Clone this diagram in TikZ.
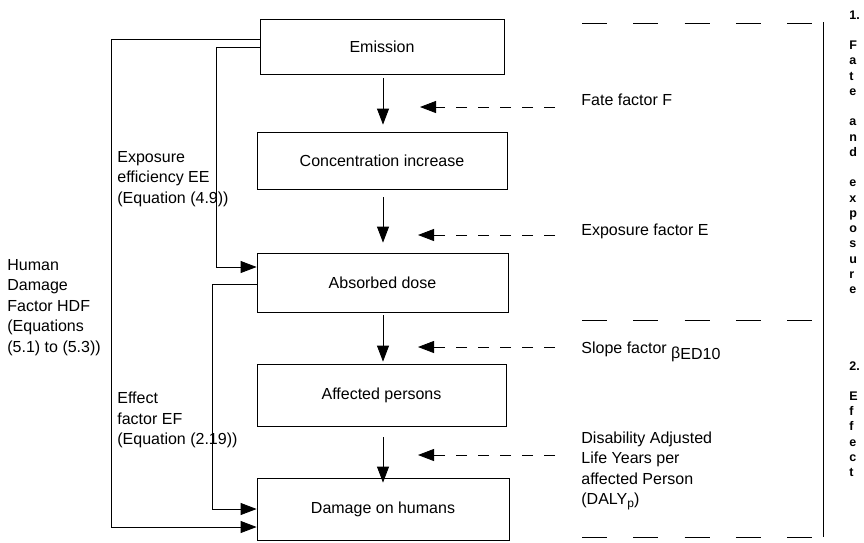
\documentclass[tikz,border=0pt]{standalone}
\usepackage{fontspec}
\setmainfont{Liberation Sans}
\usetikzlibrary{arrows.meta}
\begin{document}
\begin{tikzpicture}[x=1pt,y=-1pt, line width=0.8pt,
  box/.style={draw, inner sep=0pt, font=\fontsize{16}{20.5}\selectfont},
  lbl/.style={align=left, inner sep=0pt, font=\fontsize{16}{20.5}\selectfont},
  arr/.style={-{Triangle[length=16pt,width=12pt]}},
  darr/.style={arr, dash pattern=on 11pt off 11pt},
  sepline/.style={dash pattern=on 25pt off 26.25pt},
  vert/.style={font=\bfseries\fontsize{12.5}{14}\selectfont, inner sep=0pt, anchor=base west}]
\useasboundingbox (0,0) rectangle (864,542);

% main boxes
\node[box, minimum width=244pt, minimum height=55pt] (em)   at (382,46.5)  {Emission};
\node[box, minimum width=250pt, minimum height=57pt] (conc) at (382,160.5) {Concentration increase};
\node[box, minimum width=251pt, minimum height=59pt] (abs)  at (382.5,282.5) {Absorbed dose};
\node[box, minimum width=249pt, minimum height=62pt] (aff)  at (381.5,395) {Affected persons};
\node[box, minimum width=252pt, minimum height=62pt] (dam)  at (383,509)   {Damage on humans};

% vertical arrows
\draw[arr, shorten <=4pt, shorten >=7pt] ([xshift=1pt]em.south) -- ([xshift=1pt]em.south |- conc.north);
\draw[arr, shorten <=8pt, shorten >=10pt] ([xshift=1pt]conc.south) -- ([xshift=1pt]conc.south |- abs.north);
\draw[arr, shorten <=3pt, shorten >=2pt] ([xshift=0.5pt]abs.south) -- ([xshift=0.5pt]abs.south |- aff.north);
\draw[arr, shorten <=11pt, shorten >=-5pt] ([xshift=1.5pt]aff.south) -- ([xshift=1.5pt]aff.south |- dam.north);

% dashed arrows
\coordinate (d1s) at (555,107); \coordinate (d1e) at (420,107);
\coordinate (d2s) at (555,235); \coordinate (d2e) at (418,235);
\coordinate (d3s) at (555,347); \coordinate (d3e) at (418,347);
\coordinate (d4s) at (555,455); \coordinate (d4e) at (418,455);
\draw[darr] (d1s) -- (d1e);
\draw[darr] (d2s) -- (d2e);
\draw[darr] (d3s) -- (d3e);
\draw[darr] (d4s) -- (d4e);

% left feedback connectors
\draw[arr] ([yshift=7.5pt]em.west) -- ++(-148,0) |- ([yshift=-18pt]dam.west);
\draw[arr] ([yshift=-0.5pt]em.west) -- ++(-43,0) |- ([yshift=15.5pt]abs.west);
\draw[arr] ([yshift=-1.5pt]abs.west) -- ++(-44,0) |- (dam.west);

% left labels
\node[lbl, anchor=north west] (ee)  at (117,151) {Exposure\\efficiency EE\\(Equation (4.9))};
\node[lbl, anchor=north west] (efl) at (117,392) {Effect\\factor EF\\(Equation (2.19))};
\node[lbl, anchor=north west] (hdf) at (7,259) {Human\\Damage\\Factor HDF\\(Equations\\(5.1) to (5.3))};

% right labels
\node[lbl, anchor=base west] (ff) at (581,105.7) {Fate factor F};
\node[lbl, anchor=base west] (xf) at (581,235.7) {Exposure factor E};
\node[lbl, anchor=base west] (sf) at (581,353.7) {Slope factor \raisebox{-5pt}{β}\raisebox{-6pt}{ED10}};
\node[lbl, anchor=north west] (daly) at (581,431) {Disability Adjusted\\Life Years per\\affected Person\\(DALY\raisebox{-3pt}{\fontsize{12}{12}\selectfont p})};

% right column separators
\coordinate (r1) at (823,22); \coordinate (r2) at (823,537);
\draw[line width=1pt] (r1) -- (r2);
\coordinate (s1a) at (582,23);  \coordinate (s1b) at (812,23);
\coordinate (s2a) at (582,320); \coordinate (s2b) at (812,320);
\coordinate (s3a) at (582,537); \coordinate (s3b) at (812,537);
\draw[sepline] (s1a) -- (s1b);
\draw[sepline] (s2a) -- (s2b);
\draw[sepline] (s3a) -- (s3b);

% vertical phase labels
\foreach \i/\t in {0/1.,2/F,3/a,4/t,5/e,7/a,8/n,9/d,11/e,12/x,13/p,14/o,15/s,16/u,17/r,18/e}
  \node[vert] (fe\i) at (849,{19+\i*15.25}) {\t};
\foreach \i/\t in {0/2.,2/E,3/f,4/f,5/e,6/c,7/t}
  \node[vert] (fx\i) at (849,{370+\i*15.2}) {\t};
\end{tikzpicture}
\end{document}
